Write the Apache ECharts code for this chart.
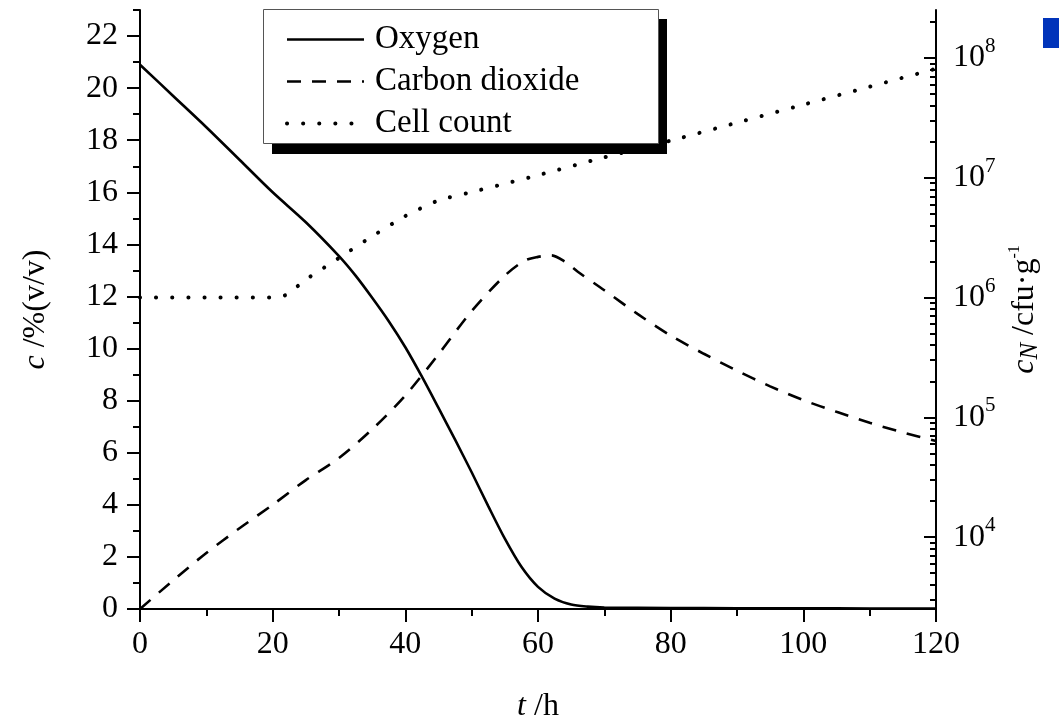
<!DOCTYPE html>
<html>
<head>
<meta charset="utf-8">
<script src="https://cdn.jsdelivr.net/npm/echarts@6/dist/echarts.min.js"></script>
<style>
  html, body { margin: 0; padding: 0; background: #fff; }
  #chart { width: 1059px; height: 720px; }
</style>
</head>
<body>
<div id="chart"></div>
<script>
// oxygen, % (v/v)
const oxygenT = [0, 5, 10, 15, 20, 25, 30, 32.5, 35, 37.5, 40, 42.5, 45, 47.5, 50, 52.5, 55, 57.5, 60, 62.5, 65, 67.5, 70, 80, 90, 100, 110, 120]
const oxygen = [20.9, 19.7, 18.5, 17.25, 16.0, 14.85, 13.55, 12.8, 11.95, 11.05, 10.05, 8.92, 7.72, 6.5, 5.25, 3.95, 2.7, 1.62, 0.85, 0.4, 0.17, 0.09, 0.06, 0.04, 0.03, 0.03, 0.02, 0.02]

// carbon dioxide, % (v/v)
const co2T = [0, 5, 10, 15, 20, 25, 30, 35, 40, 45, 50, 55, 58, 60, 62, 64, 66, 70, 75, 80, 85, 90, 95, 100, 105, 110, 115, 120]
const co2 = [0, 1.1, 2.15, 3.1, 4.0, 4.95, 5.8, 6.9, 8.2, 9.78, 11.44, 12.8, 13.38, 13.52, 13.58, 13.35, 12.95, 12.24, 11.33, 10.5, 9.8, 9.15, 8.55, 8.02, 7.57, 7.15, 6.78, 6.45]

// cell count, cfu/g
const cellT = [0, 10, 20, 22, 25, 30, 35, 40, 45, 50, 55, 60, 70, 80, 90, 100, 110, 120]
const cells = [1.0e6, 1.0e6, 1.0e6, 1.05e6, 1.41e6, 2.14e6, 3.24e6, 4.79e6, 6.46e6, 7.59e6, 8.91e6, 1.05e7, 1.48e7, 2.04e7, 2.88e7, 4.07e7, 5.75e7, 8.13e7]

const leftMajor = [0, 2, 4, 6, 8, 10, 12, 14, 16, 18, 20, 22]
const leftMinor = [1, 3, 5, 7, 9, 11, 13, 15, 17, 19, 21, 23]
const decades = [3, 4, 5, 6, 7, 8]
const rightMajor = [4, 5, 6, 7, 8]

const FONT = "'Liberation Serif', 'Times New Roman', serif"
const LOG_MIN = 3.4
const LOG_MAX = 8.4

const rightMinor = []
decades.forEach(d => {
  for (let k = 2; k <= 9; k++) {
    const v = d + Math.log10(k)
    if (v >= LOG_MIN && v <= LOG_MAX) rightMinor.push(v)
  }
})

const zip = (xs, ys) => xs.map((x, i) => [x, ys[i]])

const chart = echarts.init(document.getElementById('chart'), null, { renderer: 'canvas' })

const tickStyle = { color: '#000', width: 2 }
const labelBase = { color: '#000', fontFamily: FONT, fontSize: 32 }

const option = {
  backgroundColor: '#fff',
  animation: false,
  color: ['#000', '#000', '#000'],
  textStyle: { fontFamily: FONT, color: '#000' },
  grid: { left: 140, right: 123, top: 10, bottom: 111, outerBoundsMode: 'none' },
  legend: {
    orient: 'vertical',
    left: 263,
    top: 9,
    z: 20,
    padding: [14, 76, 4, 22],
    itemGap: 9,
    itemWidth: 77,
    itemHeight: 14,
    itemStyle: { opacity: 0 },
    lineStyle: { width: 'inherit' },
    textStyle: { color: '#000', fontFamily: FONT, fontSize: 33, padding: [0, 0, 0, 6] },
    data: ['Oxygen', 'Carbon dioxide', 'Cell count']
  },
  xAxis: {
    type: 'value',
    min: 0,
    max: 120,
    interval: 20,
    axisLine: { onZero: false, lineStyle: { color: '#000', width: 2 } },
    axisTick: { length: 13, lineStyle: tickStyle },
    minorTick: { show: true, splitNumber: 2, length: 7, lineStyle: tickStyle },
    splitLine: { show: false },
    axisLabel: { ...labelBase, margin: 20 },
    name: '{i|t} /h',
    nameLocation: 'middle',
    nameGap: 82,
    nameTextStyle: {
      ...labelBase,
      rich: { i: { ...labelBase, fontStyle: 'italic' } }
    }
  },
  yAxis: [
    {
      type: 'value',
      position: 'left',
      min: 0,
      max: 23,
      interval: 2,
      axisLine: { onZero: false, lineStyle: { color: '#000', width: 2 } },
      axisTick: { length: 13, lineStyle: tickStyle, customValues: leftMajor },
      splitLine: { show: false },
      axisLabel: { ...labelBase, margin: 22, customValues: leftMajor },
      name: '{i|c} /%(v/v)',
      nameLocation: 'middle',
      nameGap: 88,
      nameRotate: 90,
      nameTextStyle: {
        ...labelBase,
        rich: { i: { ...labelBase, fontStyle: 'italic' } }
      }
    },
    {
      type: 'value',
      position: 'left',
      min: 0,
      max: 23,
      interval: 1,
      axisLine: { show: false, onZero: false },
      axisTick: { length: 7, lineStyle: tickStyle, customValues: leftMinor },
      splitLine: { show: false },
      axisLabel: { show: false }
    },
    {
      type: 'value',
      position: 'right',
      min: LOG_MIN,
      max: LOG_MAX,
      axisLine: { onZero: false, lineStyle: { color: '#000', width: 2 } },
      axisTick: { inside: true, length: 12, lineStyle: tickStyle, customValues: rightMajor },
      splitLine: { show: false },
      axisLabel: {
        ...labelBase,
        margin: 17,
        customValues: rightMajor,
        formatter: v => '{b|10}{s|' + Math.round(v) + '}',
        rich: {
          b: { ...labelBase, padding: [6, 0, 6, 0] },
          s: { ...labelBase, fontSize: 21, verticalAlign: 'top' }
        }
      },
      name: '{i|c}{sub|N} /cfu·g{sup|-1}',
      nameLocation: 'middle',
      nameGap: 68,
      nameRotate: 90,
      nameTextStyle: {
        ...labelBase,
        rich: {
          i: { ...labelBase, fontStyle: 'italic' },
          sub: { ...labelBase, fontSize: 25, fontStyle: 'italic', verticalAlign: 'bottom', padding: [12, 0, 0, 0] },
          sup: { ...labelBase, fontSize: 16, verticalAlign: 'top' }
        }
      }
    },
    {
      type: 'value',
      position: 'right',
      min: LOG_MIN,
      max: LOG_MAX,
      axisLine: { show: false, onZero: false },
      axisTick: { inside: true, length: 6, lineStyle: tickStyle, customValues: rightMinor },
      splitLine: { show: false },
      axisLabel: { show: false }
    }
  ],
  series: [
    {
      name: 'Oxygen',
      type: 'line',
      yAxisIndex: 0,
      data: zip(oxygenT, oxygen),
      smooth: 0.3,
      symbol: 'none',
      lineStyle: { color: '#000', width: 2.6 }
    },
    {
      name: 'Carbon dioxide',
      type: 'line',
      yAxisIndex: 0,
      data: zip(co2T, co2),
      smooth: 0.3,
      symbol: 'none',
      lineStyle: { color: '#000', width: 2.6, type: [14, 11] }
    },
    {
      name: 'Cell count',
      type: 'line',
      yAxisIndex: 2,
      data: zip(cellT, cells.map(c => Math.log10(c))),
      smooth: 0.2,
      symbol: 'none',
      lineStyle: { color: '#000', width: 4, type: [0.1, 16], cap: 'round' }
    }
  ],
  graphic: [
    {
      // legend box shadow
      type: 'rect',
      z: 10,
      left: 272,
      top: 19,
      shape: { width: 395, height: 135 },
      style: { fill: '#000' }
    },
    {
      type: 'rect',
      z: 11,
      left: 263,
      top: 9,
      shape: { width: 395, height: 134 },
      style: { fill: '#fff', stroke: '#555', lineWidth: 1 }
    },
    {
      type: 'rect',
      left: 1043,
      top: 18,
      shape: { width: 16, height: 30 },
      style: { fill: '#0134ba' }
    }
  ]
}

chart.setOption(option)
</script>
</body>
</html>
